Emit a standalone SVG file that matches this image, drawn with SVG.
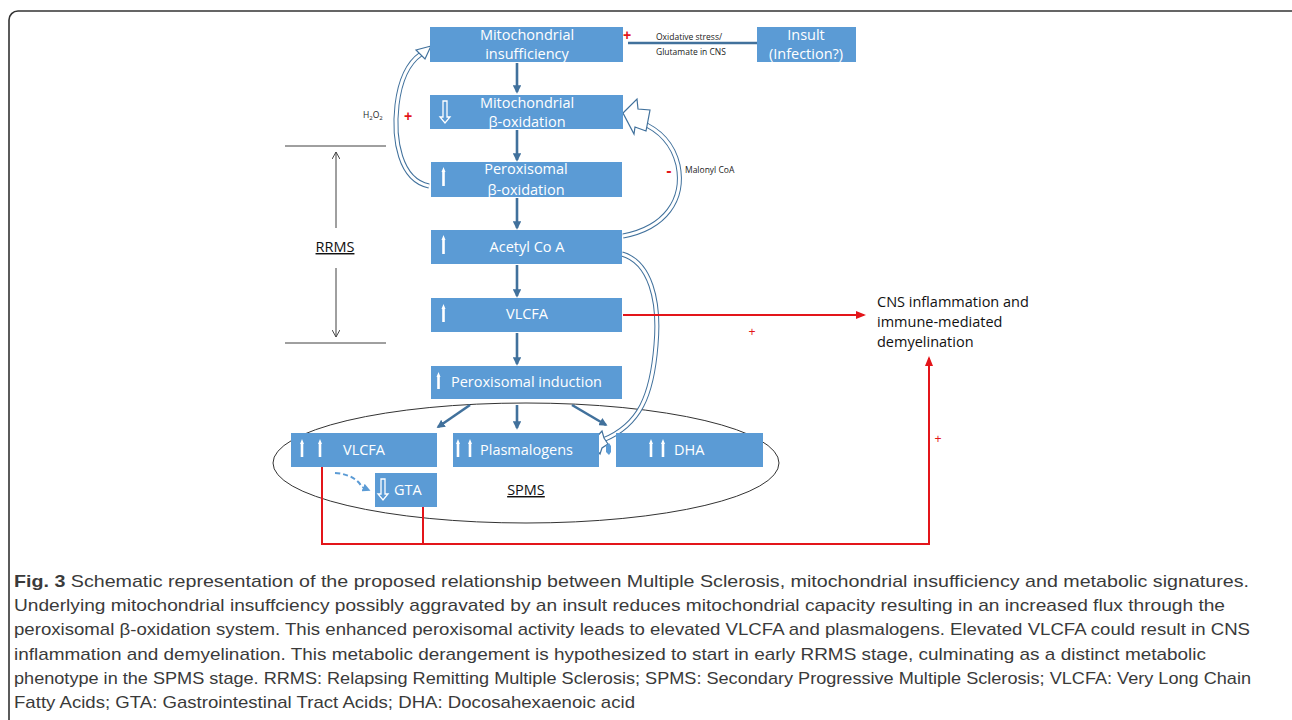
<svg xmlns="http://www.w3.org/2000/svg" width="1292" height="720" viewBox="0 0 1292 720">
<defs>
<style>
.box{fill:#5b9bd5;}
.bt{font-family:"Open Sans","Noto Sans",sans-serif;font-size:14.5px;fill:#ffffff;text-anchor:middle;}
.btl{font-family:"Open Sans","Noto Sans",sans-serif;font-size:14.5px;fill:#ffffff;}
.con{stroke:#41719c;stroke-width:2.6;fill:none;}
.red{stroke:#e3151a;stroke-width:2;fill:none;}
.rt{font-family:"Liberation Sans",Arial,sans-serif;fill:#e3151a;text-anchor:middle;}
.sm{font-family:"Open Sans","Noto Sans",sans-serif;font-size:8.5px;fill:#222;}
.cap{font-family:"Liberation Sans",Arial,sans-serif;font-size:17px;fill:#3a3a3a;}
.hol1{stroke:#41719c;stroke-width:5;fill:none;}
.hol2{stroke:#ffffff;stroke-width:3;fill:none;}
.hh{fill:#ffffff;stroke:#41719c;stroke-width:1.2;}
.wa{fill:#ffffff;}
.wah{fill:none;stroke:#ffffff;stroke-width:1.3;}
.blk{stroke:#404040;stroke-width:1;fill:none;}
</style>
<marker id="ab" viewBox="0 0 10 10" refX="8" refY="5" markerWidth="3.2" markerHeight="3.2" orient="auto"><path d="M0,0 L10,5 L0,10 z" fill="#41719c"/></marker>
<marker id="ar" viewBox="0 0 10 10" refX="8" refY="5" markerWidth="5" markerHeight="5" orient="auto"><path d="M0,1 L10,5 L0,9 z" fill="#e3151a"/></marker>
<marker id="ak" viewBox="0 0 10 10" refX="9" refY="5" markerWidth="8" markerHeight="8" orient="auto" markerUnits="userSpaceOnUse"><path d="M0,0 L9,5 L0,10" fill="none" stroke="#404040" stroke-width="1.2"/></marker>
<marker id="ad" viewBox="0 0 10 10" refX="8" refY="5" markerWidth="4" markerHeight="4" orient="auto"><path d="M0,0 L10,5 L0,10 z" fill="#5b9bd5"/></marker>
</defs>

<rect x="9" y="11" width="1295" height="760" rx="9" fill="#ffffff" stroke="#333333" stroke-width="1.6"/>

<!-- ellipse SPMS -->
<ellipse cx="526" cy="463" rx="253" ry="60" fill="none" stroke="#333" stroke-width="1"/>

<g id="connectors">
<line class="con" x1="517" y1="63" x2="517" y2="92" marker-end="url(#ab)"/>
<line class="con" x1="517" y1="130" x2="517" y2="160" marker-end="url(#ab)"/>
<line class="con" x1="517" y1="198" x2="517" y2="228" marker-end="url(#ab)"/>
<line class="con" x1="517" y1="265" x2="517" y2="296" marker-end="url(#ab)"/>
<line class="con" x1="517" y1="333" x2="517" y2="364" marker-end="url(#ab)"/>
<line class="con" x1="517" y1="405" x2="517" y2="428" marker-end="url(#ab)"/>
<line class="con" x1="470" y1="405" x2="438" y2="427" marker-end="url(#ab)"/>
<line class="con" x1="572" y1="405" x2="606" y2="425" marker-end="url(#ab)"/>
<line x1="628" y1="43" x2="757" y2="43" stroke="#41719c" stroke-width="2.5"/>
<path d="M335,473 C350,474 358,480 362,487 L369,490" fill="none" stroke="#5b9bd5" stroke-width="2" stroke-dasharray="5,3" marker-end="url(#ad)"/>
<!-- hollow curved arrows -->
<path class="hol1" d="M429,186 C400,180 393,140 397,105 C400,80 408,63 421,54"/>
<path class="hol2" d="M429,186 C400,180 393,140 397,105 C400,80 408,63 421,54"/>
<polygon class="hh" points="431,46 416,50 425,59"/>
<path class="hol1" d="M623,236 C665,228 685,200 678,165 C672,140 655,128 640,122"/>
<path class="hol2" d="M623,236 C665,228 685,200 678,165 C672,140 655,128 640,122"/>
<polygon class="hh" points="623,113 637,99 638,109 650,110 646,131 635,127 634,134"/>
<path class="hol1" d="M622,254 C650,262 660,300 656,345 C652,395 640,425 603,440"/>
<path class="hol2" d="M622,254 C650,262 660,300 656,345 C652,395 640,425 603,440"/>
<polygon class="hh" points="591,443 602,431 604,438 608,444 602,448 600,454"/>
<!-- small plug -->
<path d="M606,446 L609,443 L611,446 L611,452 L609,455 L606,452 z" fill="#5b9bd5"/>
<!-- red lines -->
<line class="red" x1="623" y1="315" x2="864" y2="315" marker-end="url(#ar)"/>
<polyline class="red" points="322,467 322,544 929,544 929,358" marker-end="url(#ar)"/>
<line class="red" x1="423" y1="507" x2="423" y2="544"/>
<!-- RRMS bracket -->
<line class="blk" x1="285" y1="146" x2="386" y2="146"/>
<line class="blk" x1="285" y1="343" x2="386" y2="343"/>
<line class="blk" x1="336" y1="228" x2="336" y2="152" marker-end="url(#ak)"/>
<line class="blk" x1="336" y1="268" x2="336" y2="337" marker-end="url(#ak)"/>
</g>

<g id="n-mito-insuff">
<rect class="box" x="430" y="27" width="193" height="35"/>
<text class="bt" x="527" y="40">Mitochondrial</text>
<text class="bt" x="527" y="59">insufficiency</text>
</g>
<g id="n-insult">
<rect class="box" x="757" y="27" width="99" height="35"/>
<text class="bt" x="806" y="40">Insult</text>
<text class="bt" x="806" y="59">(Infection?)</text>
</g>
<g id="n-mito-beta">
<rect class="box" x="430" y="95" width="193" height="34"/>
<path class="wah" d="M443,101 L447,101 L447,117 L450,117 L445,123 L440,117 L443,117 z"/>
<text class="bt" x="527" y="108">Mitochondrial</text>
<text class="bt" x="527" y="127">β-oxidation</text>
</g>
<g id="n-perox-beta">
<rect class="box" x="431" y="162" width="191" height="35"/>
<path class="wa" d="M441.5,172 L443.5,167 L445.5,172 L444.8,172 L444.8,186 L442.2,186 L442.2,172 z"/>
<text class="bt" x="526" y="174">Peroxisomal</text>
<text class="bt" x="526" y="195">β-oxidation</text>
</g>
<g id="n-acetyl">
<rect class="box" x="431" y="230" width="191" height="34"/>
<path class="wa" d="M441.5,240 L443.5,235 L445.5,240 L444.8,240 L444.8,254 L442.2,254 L442.2,240 z"/>
<text class="bt" x="527" y="252">Acetyl Co A</text>
</g>
<g id="n-vlcfa">
<rect class="box" x="431" y="298" width="191" height="34"/>
<path class="wa" d="M441.5,309 L443.5,304 L445.5,309 L444.8,309 L444.8,322 L442.2,322 L442.2,309 z"/>
<text class="bt" x="527" y="319">VLCFA</text>
</g>
<g id="n-perox-ind">
<rect class="box" x="431" y="366" width="191" height="33"/>
<path class="wa" d="M436.5,377 L438.5,372 L440.5,377 L439.8,377 L439.8,389 L437.2,389 L437.2,377 z"/>
<text class="btl" x="451" y="387">Peroxisomal induction</text>
</g>
<g id="n-vlcfa2">
<rect class="box" x="291" y="433" width="146" height="34"/>
<path class="wa" d="M300,444 L302,439 L304,444 L303.3,444 L303.3,457 L300.7,457 L300.7,444 z"/>
<path class="wa" d="M318,444 L320,439 L322,444 L321.3,444 L321.3,457 L318.7,457 L318.7,444 z"/>
<text class="btl" x="343" y="455">VLCFA</text>
</g>
<g id="n-plasmalogens">
<rect class="box" x="453" y="433" width="146" height="34"/>
<path class="wa" d="M456,444 L458,439 L460,444 L459.3,444 L459.3,457 L456.7,457 L456.7,444 z"/>
<path class="wa" d="M468,444 L470,439 L472,444 L471.3,444 L471.3,457 L468.7,457 L468.7,444 z"/>
<text class="btl" x="480" y="455">Plasmalogens</text>
</g>
<g id="n-dha">
<rect class="box" x="616" y="433" width="147" height="34"/>
<path class="wa" d="M649,444 L651,439 L653,444 L652.3,444 L652.3,457 L649.7,457 L649.7,444 z"/>
<path class="wa" d="M661,444 L663,439 L665,444 L664.3,444 L664.3,457 L661.7,457 L661.7,444 z"/>
<text class="btl" x="674" y="455">DHA</text>
</g>
<g id="n-gta">
<rect class="box" x="375" y="473" width="62" height="34"/>
<path class="wah" d="M381,479 L385,479 L385,494 L388,494 L383,500 L378,494 L381,494 z"/>
<text class="btl" x="394" y="495">GTA</text>
</g>
<g id="n-cns">
<text font-family="'Open Sans','Noto Sans',sans-serif" font-size="14.5" fill="#111">
<tspan x="877" y="307">CNS inflammation and</tspan>
<tspan x="877" y="327">immune-mediated</tspan>
<tspan x="877" y="347">demyelination</tspan>
</text>
</g>

<g id="labels">
<text class="sm" x="656" y="40">Oxidative stress/</text>
<text class="sm" x="656" y="55">Glutamate in CNS</text>
<text class="sm" x="363" y="118">H<tspan font-size="6" dy="2">2</tspan><tspan dy="-2">O</tspan><tspan font-size="6" dy="2">2</tspan></text>
<text class="sm" x="685" y="173">Malonyl CoA</text>
<text class="rt" x="627" y="40" font-size="14" font-weight="bold">+</text>
<text class="rt" x="408" y="121" font-size="14" font-weight="bold">+</text>
<text class="rt" x="669" y="176" font-size="16" font-weight="bold">-</text>
<text class="rt" x="752" y="336" font-size="12">+</text>
<text class="rt" x="938" y="443" font-size="12">+</text>
<text font-family="'Open Sans','Noto Sans',sans-serif" font-size="14.5" fill="#111" x="335" y="252" text-anchor="middle" text-decoration="underline">RRMS</text>
<text font-family="'Open Sans','Noto Sans',sans-serif" font-size="14.5" fill="#111" x="526" y="495" text-anchor="middle" text-decoration="underline">SPMS</text>
</g>

<g id="caption">
<text class="cap" x="14" y="587" textLength="1235" lengthAdjust="spacingAndGlyphs"><tspan font-weight="bold">Fig. 3</tspan> Schematic representation of the proposed relationship between Multiple Sclerosis, mitochondrial insufficiency and metabolic signatures.</text>
<text class="cap" x="14" y="611" textLength="1211" lengthAdjust="spacingAndGlyphs">Underlying mitochondrial insuffciency possibly aggravated by an insult reduces mitochondrial capacity resulting in an increased flux through the</text>
<text class="cap" x="14" y="635" textLength="1236" lengthAdjust="spacingAndGlyphs">peroxisomal β-oxidation system. This enhanced peroxisomal activity leads to elevated VLCFA and plasmalogens. Elevated VLCFA could result in CNS</text>
<text class="cap" x="14" y="660" textLength="1192" lengthAdjust="spacingAndGlyphs">inflammation and demyelination. This metabolic derangement is hypothesized to start in early RRMS stage, culminating as a distinct metabolic</text>
<text class="cap" x="14" y="684" textLength="1237" lengthAdjust="spacingAndGlyphs">phenotype in the SPMS stage. RRMS: Relapsing Remitting Multiple Sclerosis; SPMS: Secondary Progressive Multiple Sclerosis; VLCFA: Very Long Chain</text>
<text class="cap" x="14" y="708" textLength="621" lengthAdjust="spacingAndGlyphs">Fatty Acids; GTA: Gastrointestinal Tract Acids; DHA: Docosahexaenoic acid</text>
</g>
</svg>
